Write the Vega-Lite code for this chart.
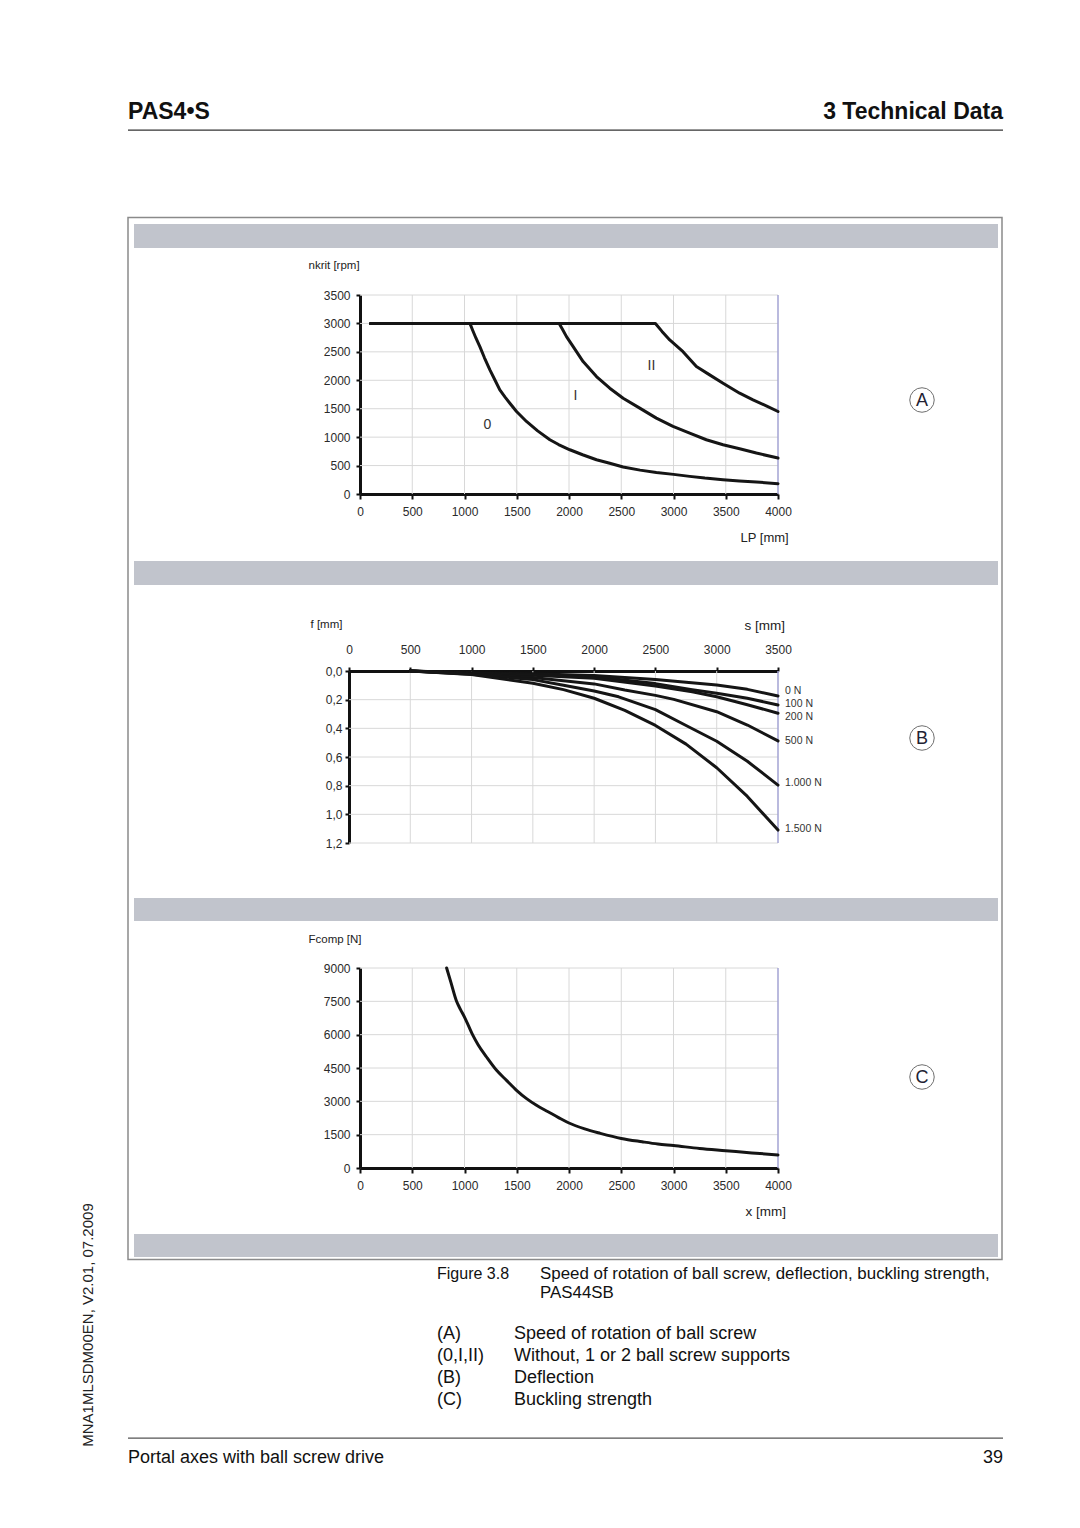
{
  "$schema": "https://vega.github.io/schema/vega-lite/v6.json",
  "width": 1080,
  "height": 1528,
  "padding": 0,
  "autosize": {"type": "none"},
  "background": "white",
  "config": {
    "view": {"stroke": null},
    "font": "Liberation Sans",
    "axis": {
      "grid": false,
      "domainColor": "#111",
      "domainWidth": 3,
      "tickColor": "#111",
      "tickWidth": 2,
      "labelFont": "Liberation Sans",
      "labelFontSize": 12,
      "labelColor": "#2a2a2a",
      "labelOverlap": false,
      "labelFlush": false,
      "titleFont": "Liberation Sans",
      "titleFontWeight": "normal",
      "titleColor": "#222",
      "titleAlign": "left",
      "titleBaseline": "middle",
      "zindex": 1
    }
  },
  "datasets": {
    "curvesA": [
      {"c": "0", "LP": 100, "n": 3000}, {"c": "0", "LP": 1052, "n": 3000}, {"c": "0", "LP": 1077, "n": 2885}, {"c": "0", "LP": 1110, "n": 2740}, {"c": "0", "LP": 1147, "n": 2592}, {"c": "0", "LP": 1190, "n": 2400}, {"c": "0", "LP": 1243, "n": 2183}, {"c": "0", "LP": 1290, "n": 2010}, {"c": "0", "LP": 1338, "n": 1831}, {"c": "0", "LP": 1390, "n": 1700}, {"c": "0", "LP": 1434, "n": 1597}, {"c": "0", "LP": 1498, "n": 1451}, {"c": "0", "LP": 1593, "n": 1276}, {"c": "0", "LP": 1700, "n": 1110}, {"c": "0", "LP": 1817, "n": 954}, {"c": "0", "LP": 1900, "n": 870}, {"c": "0", "LP": 2008, "n": 778}, {"c": "0", "LP": 2130, "n": 690}, {"c": "0", "LP": 2263, "n": 603}, {"c": "0", "LP": 2390, "n": 540}, {"c": "0", "LP": 2518, "n": 474}, {"c": "0", "LP": 2680, "n": 420}, {"c": "0", "LP": 2836, "n": 380}, {"c": "0", "LP": 3000, "n": 345}, {"c": "0", "LP": 3155, "n": 310}, {"c": "0", "LP": 3300, "n": 280}, {"c": "0", "LP": 3474, "n": 252}, {"c": "0", "LP": 3630, "n": 230}, {"c": "0", "LP": 3793, "n": 211}, {"c": "0", "LP": 4000, "n": 181},
      {"c": "I", "LP": 100, "n": 3000}, {"c": "I", "LP": 1906, "n": 3000}, {"c": "I", "LP": 1940, "n": 2890}, {"c": "I", "LP": 1976, "n": 2768}, {"c": "I", "LP": 2040, "n": 2592}, {"c": "I", "LP": 2135, "n": 2329}, {"c": "I", "LP": 2263, "n": 2066}, {"c": "I", "LP": 2390, "n": 1861}, {"c": "I", "LP": 2518, "n": 1685}, {"c": "I", "LP": 2677, "n": 1510}, {"c": "I", "LP": 2836, "n": 1334}, {"c": "I", "LP": 2995, "n": 1188}, {"c": "I", "LP": 3155, "n": 1071}, {"c": "I", "LP": 3314, "n": 954}, {"c": "I", "LP": 3474, "n": 866}, {"c": "I", "LP": 3633, "n": 796}, {"c": "I", "LP": 3793, "n": 720}, {"c": "I", "LP": 4000, "n": 632},
      {"c": "II", "LP": 100, "n": 3000}, {"c": "II", "LP": 2827, "n": 3000}, {"c": "II", "LP": 2890, "n": 2860}, {"c": "II", "LP": 2964, "n": 2709}, {"c": "II", "LP": 3091, "n": 2504}, {"c": "II", "LP": 3219, "n": 2241}, {"c": "II", "LP": 3346, "n": 2095}, {"c": "II", "LP": 3474, "n": 1948}, {"c": "II", "LP": 3633, "n": 1773}, {"c": "II", "LP": 3761, "n": 1656}, {"c": "II", "LP": 3888, "n": 1551}, {"c": "II", "LP": 4000, "n": 1451}
    ],
    "labelsA": [
      {"LP": 2789, "n": 2253, "t": "II"},
      {"LP": 2062, "n": 1732, "t": "I"},
      {"LP": 1220, "n": 1205, "t": "0"}
    ],
    "curvesB": [
      {"load": "0 N", "s": 500, "f": 0}, {"load": "0 N", "s": 1000, "f": 0.012}, {"load": "0 N", "s": 1500, "f": 0.02}, {"load": "0 N", "s": 2000, "f": 0.032}, {"load": "0 N", "s": 2500, "f": 0.06}, {"load": "0 N", "s": 3000, "f": 0.098}, {"load": "0 N", "s": 3250, "f": 0.128}, {"load": "0 N", "s": 3500, "f": 0.174},
      {"load": "100 N", "s": 500, "f": 0}, {"load": "100 N", "s": 1000, "f": 0.014}, {"load": "100 N", "s": 1500, "f": 0.025}, {"load": "100 N", "s": 2000, "f": 0.04}, {"load": "100 N", "s": 2500, "f": 0.088}, {"load": "100 N", "s": 2800, "f": 0.13}, {"load": "100 N", "s": 3000, "f": 0.155}, {"load": "100 N", "s": 3250, "f": 0.19}, {"load": "100 N", "s": 3500, "f": 0.237},
      {"load": "200 N", "s": 500, "f": 0}, {"load": "200 N", "s": 1000, "f": 0.016}, {"load": "200 N", "s": 1500, "f": 0.03}, {"load": "200 N", "s": 2000, "f": 0.05}, {"load": "200 N", "s": 2500, "f": 0.105}, {"load": "200 N", "s": 2800, "f": 0.145}, {"load": "200 N", "s": 3000, "f": 0.18}, {"load": "200 N", "s": 3250, "f": 0.235}, {"load": "200 N", "s": 3500, "f": 0.295},
      {"load": "500 N", "s": 500, "f": 0}, {"load": "500 N", "s": 1000, "f": 0.019}, {"load": "500 N", "s": 1500, "f": 0.045}, {"load": "500 N", "s": 2000, "f": 0.09}, {"load": "500 N", "s": 2250, "f": 0.133}, {"load": "500 N", "s": 2500, "f": 0.17}, {"load": "500 N", "s": 2650, "f": 0.198}, {"load": "500 N", "s": 3000, "f": 0.284}, {"load": "500 N", "s": 3250, "f": 0.377}, {"load": "500 N", "s": 3500, "f": 0.488},
      {"load": "1.000 N", "s": 500, "f": 0}, {"load": "1.000 N", "s": 1000, "f": 0.022}, {"load": "1.000 N", "s": 1500, "f": 0.06}, {"load": "1.000 N", "s": 1750, "f": 0.1}, {"load": "1.000 N", "s": 2000, "f": 0.14}, {"load": "1.000 N", "s": 2200, "f": 0.18}, {"load": "1.000 N", "s": 2500, "f": 0.27}, {"load": "1.000 N", "s": 2750, "f": 0.38}, {"load": "1.000 N", "s": 3000, "f": 0.49}, {"load": "1.000 N", "s": 3250, "f": 0.63}, {"load": "1.000 N", "s": 3500, "f": 0.796},
      {"load": "1.500 N", "s": 500, "f": 0}, {"load": "1.500 N", "s": 1000, "f": 0.025}, {"load": "1.500 N", "s": 1500, "f": 0.085}, {"load": "1.500 N", "s": 1750, "f": 0.13}, {"load": "1.500 N", "s": 2000, "f": 0.19}, {"load": "1.500 N", "s": 2250, "f": 0.275}, {"load": "1.500 N", "s": 2500, "f": 0.38}, {"load": "1.500 N", "s": 2750, "f": 0.51}, {"load": "1.500 N", "s": 3000, "f": 0.675}, {"load": "1.500 N", "s": 3250, "f": 0.875}, {"load": "1.500 N", "s": 3500, "f": 1.11}
    ],
    "labelsB": [
      {"s": 3500, "f": 0.137, "t": "0 N"},
      {"s": 3500, "f": 0.23, "t": "100 N"},
      {"s": 3500, "f": 0.319, "t": "200 N"},
      {"s": 3500, "f": 0.488, "t": "500 N"},
      {"s": 3500, "f": 0.782, "t": "1.000 N"},
      {"s": 3500, "f": 1.103, "t": "1.500 N"}
    ],
    "curveC": [
      {"x": 829, "F": 9000}, {"x": 870, "F": 8350}, {"x": 924, "F": 7500}, {"x": 962, "F": 7130}, {"x": 1000, "F": 6790}, {"x": 1040, "F": 6380}, {"x": 1077, "F": 6000}, {"x": 1130, "F": 5550}, {"x": 1211, "F": 4995}, {"x": 1307, "F": 4395}, {"x": 1402, "F": 3945}, {"x": 1498, "F": 3495}, {"x": 1594, "F": 3120}, {"x": 1689, "F": 2820}, {"x": 1800, "F": 2530}, {"x": 1900, "F": 2270}, {"x": 2000, "F": 2025}, {"x": 2150, "F": 1760}, {"x": 2300, "F": 1560}, {"x": 2500, "F": 1330}, {"x": 2700, "F": 1180}, {"x": 2850, "F": 1080}, {"x": 3000, "F": 1010}, {"x": 3250, "F": 880}, {"x": 3500, "F": 780}, {"x": 3750, "F": 680}, {"x": 4000, "F": 585}
    ]
  },
  "layer": [
    {"data": {"values": [{}]}, "mark": {"type": "text", "text": "PAS4•S", "x": 128, "y": 119, "align": "left", "baseline": "alphabetic", "font": "Liberation Sans", "fontSize": 23, "fontWeight": "bold", "color": "#111"}},
    {"data": {"values": [{}]}, "mark": {"type": "text", "text": "3 Technical Data", "x": 1003, "y": 119, "align": "right", "baseline": "alphabetic", "font": "Liberation Sans", "fontSize": 23, "fontWeight": "bold", "color": "#111"}},
    {"data": {"values": [{}]}, "mark": {"type": "rect", "x": 128, "x2": 1003, "y": 129.5, "y2": 130.8, "fill": "#333"}},
    {"data": {"values": [{}]}, "mark": {"type": "rect", "x": 128, "x2": 1002, "y": 217.5, "y2": 1259.5, "fill": null, "stroke": "#8a8a8a", "strokeWidth": 1.5}},
    {"data": {"values": [{}]}, "mark": {"type": "rect", "x": 134, "x2": 998, "y": 224, "y2": 248, "fill": "#c1c4cc"}},
    {"data": {"values": [{}]}, "mark": {"type": "rect", "x": 134, "x2": 998, "y": 561, "y2": 585, "fill": "#c1c4cc"}},
    {"data": {"values": [{}]}, "mark": {"type": "rect", "x": 134, "x2": 998, "y": 898, "y2": 921, "fill": "#c1c4cc"}},
    {"data": {"values": [{}]}, "mark": {"type": "rect", "x": 134, "x2": 998, "y": 1234, "y2": 1257, "fill": "#c1c4cc"}},
    {"data": {"values": [{}]}, "mark": {"type": "point", "shape": "circle", "size": 600, "filled": false, "stroke": "#333", "strokeWidth": 1, "x": 922, "y": 400}},
    {"data": {"values": [{}]}, "mark": {"type": "point", "shape": "circle", "size": 600, "filled": false, "stroke": "#333", "strokeWidth": 1, "x": 922, "y": 738}},
    {"data": {"values": [{}]}, "mark": {"type": "point", "shape": "circle", "size": 600, "filled": false, "stroke": "#333", "strokeWidth": 1, "x": 922, "y": 1077}},
    {"data": {"values": [{}]}, "mark": {"type": "text", "text": "A", "x": 922, "y": 401, "align": "center", "baseline": "middle", "fontSize": 18, "color": "#223"}},
    {"data": {"values": [{}]}, "mark": {"type": "text", "text": "B", "x": 922, "y": 739, "align": "center", "baseline": "middle", "fontSize": 18, "color": "#223"}},
    {"data": {"values": [{}]}, "mark": {"type": "text", "text": "C", "x": 922, "y": 1078, "align": "center", "baseline": "middle", "fontSize": 18, "color": "#223"}},
    {"data": {"values": [{}]}, "mark": {"type": "text", "text": "Figure 3.8", "x": 437, "y": 1279, "align": "left", "baseline": "alphabetic", "fontSize": 16, "color": "#111"}},
    {"data": {"values": [{}]}, "mark": {"type": "text", "text": ["Speed of rotation of ball screw, deflection, buckling strength,", "PAS44SB"], "lineHeight": 19, "x": 540, "y": 1279, "align": "left", "baseline": "alphabetic", "fontSize": 16.9, "color": "#111"}},
    {"data": {"values": [{}]}, "mark": {"type": "text", "text": ["(A)", "(0,I,II)", "(B)", "(C)"], "lineHeight": 22, "x": 437, "y": 1338.5, "align": "left", "baseline": "alphabetic", "fontSize": 18, "color": "#111"}},
    {"data": {"values": [{}]}, "mark": {"type": "text", "text": ["Speed of rotation of ball screw", "Without, 1 or 2 ball screw supports", "Deflection", "Buckling strength"], "lineHeight": 22, "x": 514, "y": 1338.5, "align": "left", "baseline": "alphabetic", "fontSize": 18, "color": "#111"}},
    {"data": {"values": [{}]}, "mark": {"type": "rect", "x": 128, "x2": 1003, "y": 1437.5, "y2": 1438.8, "fill": "#555"}},
    {"data": {"values": [{}]}, "mark": {"type": "text", "text": "Portal axes with ball screw drive", "x": 128, "y": 1462.5, "align": "left", "baseline": "alphabetic", "fontSize": 18, "color": "#111"}},
    {"data": {"values": [{}]}, "mark": {"type": "text", "text": "39", "x": 1003, "y": 1462.5, "align": "right", "baseline": "alphabetic", "fontSize": 18, "color": "#111"}},
    {"data": {"values": [{}]}, "mark": {"type": "text", "text": "MNA1MLSDM00EN, V2.01, 07.2009", "x": 88, "y": 1325, "angle": 270, "align": "center", "baseline": "middle", "fontSize": 15, "color": "#222"}},
    {
      "layer": [
        {"data": {"values": [{"v": 500}, {"v": 1000}, {"v": 1500}, {"v": 2000}, {"v": 2500}, {"v": 3000}, {"v": 3500}]},
         "mark": {"type": "rule", "color": "#d8d8d8", "strokeWidth": 1},
         "encoding": {"x": {"field": "v", "type": "quantitative"}, "y": {"datum": 0, "type": "quantitative"}, "y2": {"datum": 3500}}},
        {"data": {"values": [{"v": 500}, {"v": 1000}, {"v": 1500}, {"v": 2000}, {"v": 2500}, {"v": 3000}, {"v": 3500}]},
         "mark": {"type": "rule", "color": "#d8d8d8", "strokeWidth": 1},
         "encoding": {"y": {"field": "v", "type": "quantitative"}, "x": {"datum": 0, "type": "quantitative"}, "x2": {"datum": 4000}}},
        {"data": {"values": [{"v": 4000}]},
         "mark": {"type": "rule", "color": "#a3a3d3", "strokeWidth": 1.5},
         "encoding": {"x": {"field": "v", "type": "quantitative"}, "y": {"datum": 0, "type": "quantitative"}, "y2": {"datum": 3500}}},
        {"data": {"name": "curvesA"},
         "mark": {"type": "line", "color": "#151515", "strokeWidth": 3, "strokeJoin": "round", "strokeCap": "round"},
         "encoding": {
           "x": {"field": "LP", "type": "quantitative", "scale": {"domain": [0, 4000], "range": [360, 778], "nice": false},
                 "axis": {"orient": "bottom", "offset": -1034, "values": [0, 500, 1000, 1500, 2000, 2500, 3000, 3500, 4000], "format": "d", "tickSize": 5, "labelPadding": 7, "title": "LP [mm]", "titleX": 740, "titleY": 43, "titleFontSize": 13}},
           "y": {"field": "n", "type": "quantitative", "scale": {"domain": [0, 3500], "range": [494, 295], "nice": false},
                 "axis": {"orient": "left", "offset": -360, "values": [0, 500, 1000, 1500, 2000, 2500, 3000, 3500], "format": "d", "tickSize": 4, "labelPadding": 6, "title": "nkrit [rpm]", "titleAngle": 0, "titleX": -52, "titleY": 265, "titleFontSize": 11.5}},
           "detail": {"field": "c"}
         }},
        {"data": {"name": "labelsA"},
         "mark": {"type": "text", "fontSize": 14, "color": "#333", "align": "center", "baseline": "middle"},
         "encoding": {"x": {"field": "LP", "type": "quantitative"}, "y": {"field": "n", "type": "quantitative"}, "text": {"field": "t"}}}
      ]
    },
    {
      "layer": [
        {"data": {"values": [{"v": 500}, {"v": 1000}, {"v": 1500}, {"v": 2000}, {"v": 2500}, {"v": 3000}]},
         "mark": {"type": "rule", "color": "#d8d8d8", "strokeWidth": 1},
         "encoding": {"x": {"field": "v", "type": "quantitative"}, "y": {"datum": 0, "type": "quantitative"}, "y2": {"datum": 1.2}}},
        {"data": {"values": [{"v": 0.2}, {"v": 0.4}, {"v": 0.6}, {"v": 0.8}, {"v": 1.0}, {"v": 1.2}]},
         "mark": {"type": "rule", "color": "#d8d8d8", "strokeWidth": 1},
         "encoding": {"y": {"field": "v", "type": "quantitative"}, "x": {"datum": 0, "type": "quantitative"}, "x2": {"datum": 3500}}},
        {"data": {"values": [{"v": 3500}]},
         "mark": {"type": "rule", "color": "#a3a3d3", "strokeWidth": 1.5},
         "encoding": {"x": {"field": "v", "type": "quantitative"}, "y": {"datum": 0, "type": "quantitative"}, "y2": {"datum": 1.2}}},
        {"data": {"name": "curvesB"},
         "mark": {"type": "line", "color": "#151515", "strokeWidth": 3, "strokeJoin": "round", "strokeCap": "round"},
         "encoding": {
           "x": {"field": "s", "type": "quantitative", "scale": {"domain": [0, 3500], "range": [349, 778], "nice": false},
                 "axis": {"orient": "top", "offset": -671, "values": [0, 500, 1000, 1500, 2000, 2500, 3000, 3500], "format": "d", "tickSize": 4, "labelPadding": 11, "title": "s [mm]", "titleX": 744, "titleY": -46, "titleFontSize": 13.5}},
           "y": {"field": "f", "type": "quantitative", "scale": {"domain": [0, 1.2], "range": [671, 843], "nice": false},
                 "axis": {"orient": "left", "offset": -349, "values": [0, 0.2, 0.4, 0.6, 0.8, 1.0, 1.2], "labelExpr": "replace(format(datum.value, '.1f'), '.', ',')", "tickSize": 4, "labelPadding": 3, "title": "f [mm]", "titleAngle": 0, "titleX": -39, "titleY": 624, "titleFontSize": 11.5}},
           "detail": {"field": "load"}
         }},
        {"data": {"name": "labelsB"},
         "mark": {"type": "text", "fontSize": 10.5, "color": "#333", "align": "left", "baseline": "middle", "dx": 7},
         "encoding": {"x": {"field": "s", "type": "quantitative"}, "y": {"field": "f", "type": "quantitative"}, "text": {"field": "t"}}}
      ]
    },
    {
      "layer": [
        {"data": {"values": [{"v": 500}, {"v": 1000}, {"v": 1500}, {"v": 2000}, {"v": 2500}, {"v": 3000}, {"v": 3500}]},
         "mark": {"type": "rule", "color": "#d8d8d8", "strokeWidth": 1},
         "encoding": {"x": {"field": "v", "type": "quantitative"}, "y": {"datum": 0, "type": "quantitative"}, "y2": {"datum": 9000}}},
        {"data": {"values": [{"v": 1500}, {"v": 3000}, {"v": 4500}, {"v": 6000}, {"v": 7500}, {"v": 9000}]},
         "mark": {"type": "rule", "color": "#d8d8d8", "strokeWidth": 1},
         "encoding": {"y": {"field": "v", "type": "quantitative"}, "x": {"datum": 0, "type": "quantitative"}, "x2": {"datum": 4000}}},
        {"data": {"values": [{"v": 4000}]},
         "mark": {"type": "rule", "color": "#a3a3d3", "strokeWidth": 1.5},
         "encoding": {"x": {"field": "v", "type": "quantitative"}, "y": {"datum": 0, "type": "quantitative"}, "y2": {"datum": 9000}}},
        {"data": {"name": "curveC"},
         "mark": {"type": "line", "color": "#151515", "strokeWidth": 3, "strokeJoin": "round", "strokeCap": "round", "interpolate": "monotone"},
         "encoding": {
           "x": {"field": "x", "type": "quantitative", "scale": {"domain": [0, 4000], "range": [360, 778], "nice": false},
                 "axis": {"orient": "bottom", "offset": -360, "values": [0, 500, 1000, 1500, 2000, 2500, 3000, 3500, 4000], "format": "d", "tickSize": 5, "labelPadding": 7, "title": "x [mm]", "titleX": 745, "titleY": 43, "titleFontSize": 13.5}},
           "y": {"field": "F", "type": "quantitative", "scale": {"domain": [0, 9000], "range": [1168, 968], "nice": false},
                 "axis": {"orient": "left", "offset": -360, "values": [0, 1500, 3000, 4500, 6000, 7500, 9000], "format": "d", "tickSize": 4, "labelPadding": 6, "title": "Fcomp [N]", "titleAngle": 0, "titleX": -52, "titleY": 939, "titleFontSize": 11.5}}
         }}
      ]
    }
  ],
  "resolve": {"scale": {"x": "independent", "y": "independent"}}
}
